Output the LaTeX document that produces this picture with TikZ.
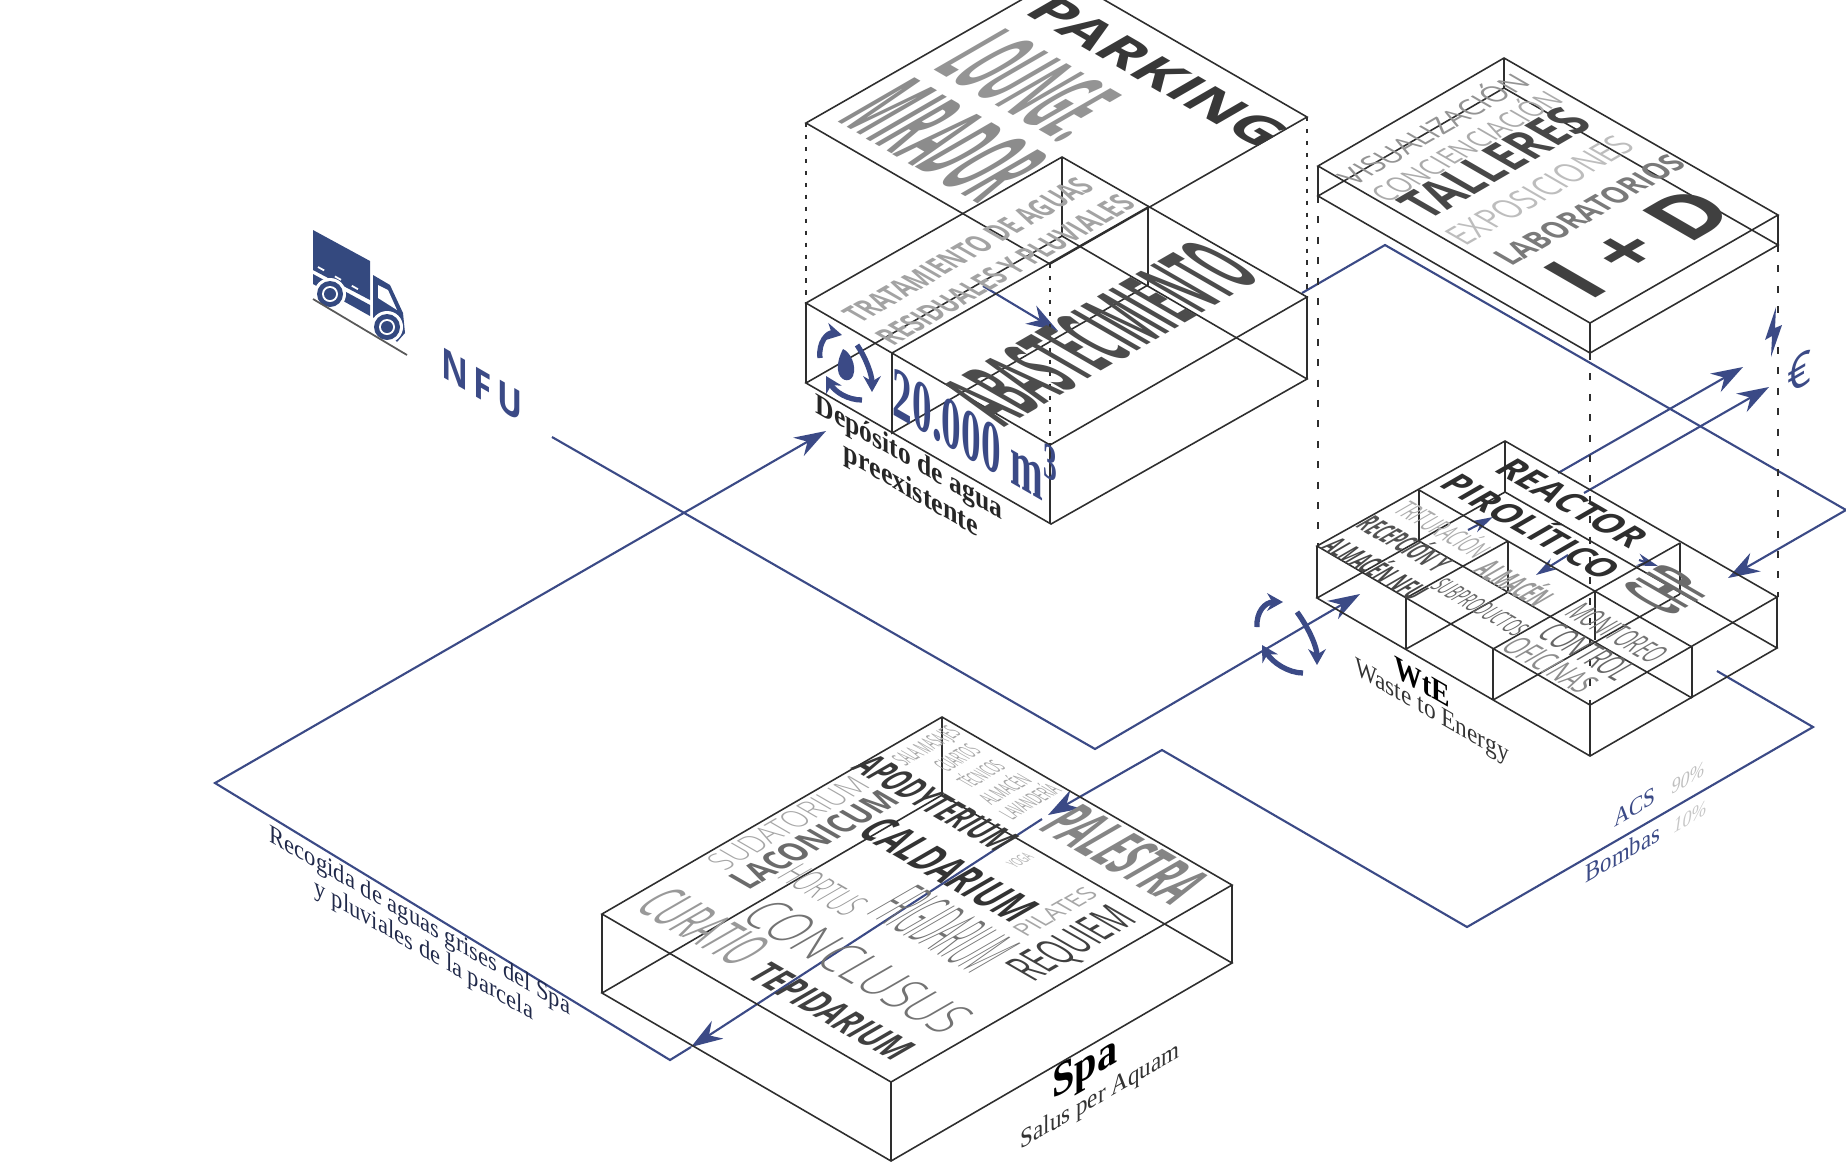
\documentclass[tikz,border=0pt]{standalone}
\usepackage{fontspec}
\usepackage{graphicx}
\setmainfont{Liberation Serif}
\setsansfont{Open Sans}
\newfontfamily\thinfont{Open Sans Light}
\usetikzlibrary{arrows.meta}
\definecolor{navy}{HTML}{3B4A86}
\definecolor{truckblue}{HTML}{34497F}
\definecolor{wirecol}{HTML}{2E2E2E}
\newlength{\pxu}
\setlength{\pxu}{0.01cm}
\newcommand{\fitword}[3]{\resizebox{#1\pxu}{#2\pxu}{#3}}
\newcommand{\fitlabel}[2]{\resizebox{#1\pxu}{!}{#2}}
\tikzset{
  wire/.style={wirecol,line width=0.45pt},
  dotline/.style={wirecol,line width=0.45pt,dash pattern=on 1.2pt off 2.2pt},
  dashline/.style={wirecol,line width=0.6pt,dash pattern=on 2pt off 3.8pt},
  flow/.style={navy,line width=0.6pt},
  flowtip/.style={flow,-{Stealth[length=9pt,width=6pt]}},
  smalltip/.style={flow,-{Stealth[length=6pt,width=3.5pt]}},
  cycle arrow/.style={navy,line width=1.5pt,-{Stealth[length=4.5pt,width=5pt]}},
  word/.style={inner sep=0pt,font=\sffamily},
  isose/.style={word,cm={0.866,-0.5,0.866,0.5,(0,0)},transform shape},
  isone/.style={word,cm={0.866,0.5,-0.866,0.5,(0,0)},transform shape},
  wallse/.style={inner sep=0pt,cm={0.866,-0.5,0,1,(0,0)},transform shape},
  wallne/.style={inner sep=0pt,cm={0.866,0.5,0,1,(0,0)},transform shape}
}
\begin{document}
\begin{tikzpicture}[x=0.01cm,y=-0.01cm]
  \useasboundingbox (0,0) rectangle (1846,1169);
  \clip (0,0) rectangle (1846,1169);

  % Flows
  \draw[flowtip] (552,437) -- (1095,749) -- (1360,594);
  \draw[flowtip] (691,1047) -- (670,1060) -- (215,783) -- (826,431);
  \draw[flowtip] (1717,671) -- (1813,727) -- (1467,927) -- (1162,750) -- (1048,815);
  \draw[flowtip] (1042,819) -- (691,1047);
  \draw[flowtip] (1302,293) -- (1385,245) -- (1846,510) -- (1728,578);
  \draw[flowtip] (983,286) -- (1058,331);
  \draw[flowtip] (1558,473) -- (1743,367);
  \draw[flowtip] (1584,493) -- (1769,387);
  \draw[smalltip] (1468,530) -- (1493,517);
  \draw[smalltip] (1568,555) -- (1536,575);
  \draw[smalltip] (1639,560) -- (1658,566);

  % Top plate of the tank
  \draw[wire] (806,123) -- (1063,-24) -- (1307,117) -- (1050,264) -- cycle;
  \draw[dotline] (806,123) -- (806,303);
  \draw[dotline] (1307,117) -- (1307,297);
  \draw[dotline] (1050,264) -- (1050,445);
  \node[isose,text=black!78] (parking) at (1158,72) {\fitword{275}{38}{\bfseries PARKING}};
  \node[isose,text=black!42] (lounge) at (1032,85) {\fitword{150}{84}{\bfseries LOUNGE.}};
  \node[isose,text=black!45] (mirador) at (945,140) {\fitword{165}{90}{\bfseries MIRADOR}};

  % Tank
  \draw[wire] (806,303) -- (1062,157) -- (1307,297) -- (1050,445) -- cycle;
  \draw[wire] (806,383) -- (1051,524) -- (1307,379) -- (1062,236) -- cycle;
  \draw[wire] (806,303) -- (806,383);
  \draw[wire] (1050,445) -- (1050,524);
  \draw[wire] (1307,297) -- (1307,379);
  \draw[wire] (1062,157) -- (1062,236);
  \draw[wire] (892,353) -- (892,433) -- (1148,285) -- (1148,207) -- cycle;
  \node[isone,text=black!36] (treat) at (968,250) {\fitword{272}{24}{\bfseries TRATAMIENTO DE AGUAS}};
  \node[isone,text=black!36] (residual) at (1005,270) {\fitword{282}{24}{\bfseries RESIDUALES Y PLUVIALES}};
  \node[isone,text=black!70] (supply) at (1101,333) {\fitword{300}{78}{\bfseries ABASTECIMIENTO}};
  \node[wallse,text=navy] (volume) at (976,433) {\fitword{192}{60}{\rmfamily\bfseries 20.000 m\textsuperscript{3}}};
  \node[wallse,text=black!85] (tank) at (909,459) {\fitlabel{215}{\bfseries Depósito de agua}};
  \node[wallse,text=black!85] (tank2) at (911,491) {\fitlabel{155}{\bfseries preexistente}};

  % Drop and turning arrows
  \fill[navy] (843,349) .. controls (850,352) and (857,365) .. (853,376) .. controls (849,384) and (839,380) .. (838,370) .. controls (837,362) and (840,355) .. (843,349);
  \draw[cycle arrow] (820,358) .. controls (818,342) and (828,332) .. (842,335);
  \draw[cycle arrow] (857,345) .. controls (866,358) and (872,375) .. (872,392);
  \draw[cycle arrow] (862,400) .. controls (848,400) and (835,392) .. (826,376);

  % I+D
  \draw[wire] (1318,166) -- (1504,58) -- (1778,215) -- (1590,323) -- cycle;
  \draw[wire] (1318,196) -- (1590,353) -- (1778,245) -- (1504,88) -- cycle;
  \draw[wire] (1318,166) -- (1318,196);
  \draw[wire] (1590,323) -- (1590,353);
  \draw[wire] (1778,215) -- (1778,245);
  \draw[wire] (1504,58) -- (1504,88);
  \draw[dashline] (1318,196) -- (1318,546);
  \draw[dashline] (1590,353) -- (1590,705);
  \draw[dashline] (1778,245) -- (1778,597);
  \node[isone,text=black!42] (visual) at (1431,128) {\fitword{205}{29}{VISUALIZACIÓN}};
  \node[isone,text=black!33] (aware) at (1464,145) {\fitword{205}{29}{CONCIENCIACIÓN}};
  \node[isone,text=black!72] (shops) at (1495,163) {\fitword{192}{40}{\bfseries TALLERES}};
  \node[isone,text=black!26] (shows) at (1540,190) {\fitword{198}{27}{EXPOSICIONES}};
  \node[isone,text=black!52] (labs) at (1590,210) {\fitword{204}{24}{\bfseries LABORATORIOS}};
  \node[isone,text=black!75] (rd) at (1639,243) {\fitword{175}{60}{\bfseries I + D}};

  % Sale of energy
  \fill[navy] (1776,307) -- (1765,340) -- (1772,336) -- (1771,357) -- (1782,325) -- (1775,328) -- cycle;
  \node[wallne,text=navy] (euro) at (1800,372) {\fitword{28}{34}{\sffamily €}};

  % WtE
  \draw[wire] (1317,546) -- (1505,441) -- (1777,597) -- (1590,705) -- cycle;
  \draw[wire] (1317,598) -- (1590,756) -- (1777,648) -- (1505,492) -- cycle;
  \draw[wire] (1419,490) -- (1692,647);
  \draw[wire] (1419,541) -- (1692,698);
  \draw[wire] (1406,598) -- (1508,541);
  \draw[wire] (1406,649) -- (1508,592);
  \draw[wire] (1493,649) -- (1680,543);
  \draw[wire] (1493,700) -- (1680,594);
  \foreach \px/\pt/\pb in {1317/546/598,1406/598/649,1493/649/700,1590/705/756,1692/647/698,1777/597/648,1505/441/492,1419/490/541,1508/541/592,1595/590/640,1680/543/594}
    \draw[wire] (\px,\pt) -- (\px,\pb);
  \node[isose,text=black!82] (reactor) at (1572,503) {\fitword{158}{27}{\bfseries REACTOR}};
  \node[isose,text=black!82] (pyro) at (1534,525) {\fitword{190}{34}{\bfseries PIROLÍTICO}};
  \node[isose,text=black!33] (shred) at (1445,528) {\fitword{95}{28}{TRITURACIÓN}};
  \node[isose,text=black!68] (recep) at (1407,542) {\fitword{92}{30}{\bfseries RECEPCIÓN Y}};
  \node[isose,text=black!72] (nfustore) at (1378,567) {\fitword{105}{30}{\bfseries ALMACÉN NFU}};
  \node[isose,text=black!40] (store) at (1517,582) {\fitword{72}{32}{\bfseries ALMACÉN}};
  \node[isose,text=black!60] (byprod) at (1480,607) {\fitword{98}{20}{SUBPRODUCTOS}};
  \node[isose,text=black!55] (watch) at (1617,633) {\fitword{100}{25}{MONITOREO}};
  \node[isose,text=black!60] (control) at (1587,652) {\fitword{92}{28}{CONTROL}};
  \node[isose,text=black!45] (office) at (1550,665) {\fitword{92}{26}{OFICINAS}};
  \node[isone,text=black!58] (chp) at (1667,590) {\fitword{54}{58}{\bfseries CHP}};
  \node[wallse] (wte) at (1422,682) {\fitlabel{64}{\bfseries WtE}};
  \node[wallse,text=black!80] (wte2) at (1432,713) {\fitlabel{177}{Waste to Energy}};
  \node[wallne,text=navy] (acs) at (1635,807) {\fitlabel{48}{ACS}};
  \node[wallne,text=black!25] (acspc) at (1688,778) {\fitlabel{38}{\itshape 90\%}};
  \node[wallne,text=navy] (pumps) at (1623,853) {\fitlabel{86}{Bombas}};
  \node[wallne,text=black!22] (pumpspc) at (1690,817) {\fitlabel{38}{\itshape 10\%}};

  % Turning arrows on the way in
  \draw[cycle arrow] (1257,627) .. controls (1256,612) and (1265,602) .. (1283,602);
  \draw[cycle arrow] (1297,612) .. controls (1310,630) and (1317,648) .. (1317,665);
  \draw[cycle arrow] (1303,673) .. controls (1288,673) and (1272,662) .. (1262,645);

  % Spa
  \draw[wire] (602,914) -- (942,717) -- (1232,885) -- (891,1082) -- cycle;
  \draw[wire] (602,993) -- (891,1161) -- (1232,963) -- (942,795) -- cycle;
  \draw[wire] (602,914) -- (602,993);
  \draw[wire] (891,1082) -- (891,1161);
  \draw[wire] (1232,885) -- (1232,963);
  \draw[wire] (942,717) -- (942,795);
  \node[isone,text=black!35] (sudat) at (788,823) {\fitword{170}{24}{\thinfont SUDATORIUM}};
  \node[isone,text=black!58] (lacon) at (814,840) {\fitword{178}{26}{\bfseries LACONICUM}};
  \node[isose,text=black!78] (apod) at (936,803) {\fitword{168}{30}{\bfseries APODYTERIUM}};
  \node[isose,text=black!80] (cald) at (949,870) {\fitword{180}{36}{\bfseries CALDARIUM}};
  \node[isose,text=black!55] (frig) at (944,929) {\fitword{122}{60}{\thinfont FRIGIDARIUM}};
  \node[isose,text=black!40] (hort) at (823,890) {\fitword{80}{30}{\thinfont HORTUS}};
  \node[isose,text=black!55] (concl) at (858,967) {\fitword{235}{42}{\thinfont CONCLUSUS}};
  \node[isose,text=black!40] (curat) at (704,927) {\fitword{118}{46}{CURATIO}};
  \node[isose,text=black!75] (tepid) at (832,1012) {\fitword{170}{30}{\bfseries TEPIDARIUM}};
  \node[isose,text=black!48] (palest) at (1126,854) {\fitword{155}{52}{\bfseries PALESTRA}};
  \node[isone,text=black!75] (requiem) at (1074,945) {\fitword{122}{36}{REQUIEM}};
  \node[isone,text=black!35] (pilates) at (1055,912) {\fitword{85}{18}{PILATES}};
  \node[isone,text=black!35] (massage) at (928,747) {\fitword{65}{18}{SALA MASAJES}};
  \node[isone,text=black!35] (rooms) at (957,758) {\fitword{40}{18}{CUARTOS}};
  \node[isone,text=black!35] (tech) at (979,773) {\fitword{42}{22}{TÉCNICOS}};
  \node[isone,text=black!35] (spastore) at (1003,788) {\fitword{48}{22}{ALMACÉN}};
  \node[isone,text=black!35] (laundry) at (1028,800) {\fitword{58}{22}{LAVANDERÍA}};
  \node[isone,text=black!30] (yoga) at (1020,860) {\fitword{22}{12}{YOGA}};
  \node[wallne] (spa) at (1085,1070) {\fitlabel{75}{\bfseries Spa}};
  \node[wallne,text=black!80] (spa2) at (1100,1097) {\fitlabel{183}{Salus per Aquam}};

  % Collection label
  \node[wallse,text=navy!55!black] (rain) at (420,922) {\fitlabel{347}{Recogida de aguas grises del Spa}};
  \node[wallse,text=navy!55!black] (rain2) at (424,951) {\fitlabel{252}{y pluviales de la parcela}};

  % Truck
  \fill[truckblue] (313,230) -- (370,261) -- (370,300) -- (313,270) -- cycle;
  \fill[truckblue] (313,274) -- (370,305) -- (370,316) -- (313,284) -- cycle;
  \fill[truckblue] (373,275) -- (390,285) -- (403,313) -- (405,333) -- (397,342) -- (373,317) -- cycle;
  \fill[white] (378,285) -- (388,290) -- (397,310) -- (378,298) -- cycle;
  \draw[white,line width=0.5pt,dash pattern=on 2pt off 3.5pt] (318,267) -- (363,292);
  \foreach \wx/\wy in {330/294,387/327} {
    \fill[white] (\wx,\wy) circle[radius=16];
    \fill[truckblue] (\wx,\wy) circle[radius=13];
    \fill[white] (\wx,\wy) circle[radius=8];
    \fill[truckblue] (\wx,\wy) circle[radius=6];
  }
  \draw[black!65,line width=0.5pt] (313,299) -- (407,355);
  \node[wallse,text=navy] (nfu) at (482,385) {\fitword{94}{30}{\sffamily\bfseries N\,F\,U}};
\end{tikzpicture}
\end{document}
